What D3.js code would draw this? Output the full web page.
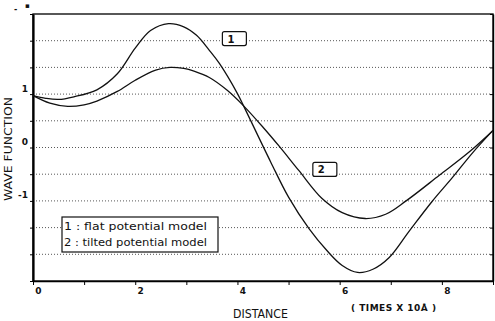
<!DOCTYPE html>
<html>
<head>
<meta charset="utf-8">
<script src="https://cdn.jsdelivr.net/npm/d3@7"></script>
<style>
  body { margin: 0; background: #fff; }
  svg text { font-family: "DejaVu Sans", "Liberation Sans", sans-serif; fill: #111; }
</style>
</head>
<body>
<svg id="chart" width="495" height="321"></svg>
<script>
// curve 1 : flat potential model
const xs1 = [0, 0.25, 0.5, 0.8, 1.25, 1.65, 2.0, 2.3, 2.65, 2.95, 3.2, 3.45, 3.65, 4.0, 4.12, 4.65, 5.0, 5.4, 5.75, 6.05, 6.35, 6.65, 6.97, 7.35, 7.8, 8.2, 8.6, 9.0];
const ys1 = [0.97, 0.92, 0.90, 0.95, 1.08, 1.38, 1.86, 2.19, 2.32, 2.26, 2.10, 1.82, 1.57, 1.01, 0.78, -0.27, -0.93, -1.52, -1.93, -2.21, -2.34, -2.28, -2.06, -1.58, -1.02, -0.57, -0.10, 0.32];
// curve 2 : tilted potential model
const xs2 = [0, 0.33, 0.68, 1.0, 1.25, 1.65, 2.0, 2.4, 2.68, 2.95, 3.15, 3.45, 3.8, 4.12, 4.5, 4.82, 5.2, 5.65, 6.05, 6.5, 6.9, 7.3, 7.95, 8.55, 9.0];
const ys2 = [0.97, 0.83, 0.77, 0.80, 0.87, 1.05, 1.26, 1.45, 1.50, 1.48, 1.43, 1.31, 1.07, 0.78, 0.38, 0.02, -0.43, -0.95, -1.22, -1.33, -1.25, -1.00, -0.52, -0.07, 0.32];

const xTicks = [0, 1, 2, 3, 4, 5, 6, 7, 8, 9];
const xLabels = [0, 2, 4, 6, 8];
const yTicks = [-2.5, -2, -1.5, -1, -0.5, 0, 0.5, 1, 1.5, 2, 2.5];
const yGrid = [-2, -1.5, -1, -0.5, 0, 0.5, 1, 1.5, 2];
const yLabels = [1, 0, -1];
const legendLines = ['1 : flat potential model', '2 : tilted potential model'];
// curve tags: [label, x, y] in data units (box centre)
const tags = [['1', 3.94, 2.04], ['2', 5.71, -0.41]];

const svg = d3.select('#chart');
const x = d3.scaleLinear().domain([0, 9]).range([33, 493]);
const y = d3.scaleLinear().domain([-2.5, 2.5]).range([281, 14]);

// grid
svg.append('g').selectAll('line').data(yGrid).enter().append('line')
    .attr('x1', x(0) + 3).attr('x2', x(9) - 3)
    .attr('y1', d => y(d)).attr('y2', d => y(d))
    .attr('stroke', '#444').attr('stroke-width', 0.9)
    .attr('stroke-dasharray', '1,2');

// frame
svg.append('rect')
    .attr('x', x(0)).attr('y', y(2.5))
    .attr('width', x(9) - x(0)).attr('height', y(-2.5) - y(2.5))
    .attr('fill', 'none').attr('stroke', '#111').attr('stroke-width', 1.4);

// axes
let xAxis = svg.append('g')
    .attr('transform', 'translate(0,' + y(-2.5) + ')')
    .call(d3.axisBottom(x).tickValues(xTicks).tickSize(4).tickSizeOuter(0)
        .tickFormat(d => xLabels.includes(d) ? d : ''));
xAxis.select('.domain').attr('stroke-width', 1.6);
xAxis.selectAll('text')
    .attr('dx', 5).attr('dy', 6)
    .style('font-size', '9px').style('font-weight', 'bold');

let yAxis = svg.append('g')
    .attr('transform', 'translate(' + x(0) + ',0)')
    .call(d3.axisLeft(y).tickValues(yTicks).tickSize(3).tickSizeOuter(0)
        .tickFormat(d => yLabels.includes(d) ? d : ''));
yAxis.select('.domain').attr('stroke-width', 2.2);
yAxis.selectAll('text')
    .attr('x', -5).attr('dy', -3)
    .style('font-size', '9px').style('font-weight', 'bold');

let rAxis = svg.append('g')
    .attr('transform', 'translate(' + x(9) + ',0)')
    .call(d3.axisRight(y).tickValues(yTicks).tickSize(-3).tickSizeOuter(0).tickFormat(''));
rAxis.select('.domain').attr('stroke-width', 1.4);

// curves
let line = d3.line()
    .x(d => x(d[0]))
    .y(d => y(d[1]))
    .curve(d3.curveCatmullRom.alpha(0.5));

[[xs1, ys1], [xs2, ys2]].forEach(function (s) {
    let pts = s[0].map((v, i) => [v, s[1][i]]);
    svg.append('path')
        .attr('d', line(pts))
        .attr('fill', 'none')
        .attr('stroke', '#111')
        .attr('stroke-width', 1.3);
});

// curve tags
tags.forEach(function (t) {
    svg.append('rect')
        .attr('x', x(t[1]) - 12).attr('y', y(t[2]) - 7)
        .attr('width', 24).attr('height', 14)
        .attr('rx', 2)
        .attr('fill', '#fff').attr('stroke', '#111').attr('stroke-width', 1.2);
    svg.append('text')
        .attr('x', x(t[1]) - 7).attr('y', y(t[2]) + 4)
        .style('font-size', '10px').style('font-weight', 'bold')
        .text(t[0]);
});

// legend
svg.append('rect')
    .attr('x', 62).attr('y', 217).attr('width', 156).attr('height', 35)
    .attr('fill', '#fff').attr('stroke', '#111').attr('stroke-width', 1.2);
legendLines.forEach(function (t, i) {
    svg.append('text')
        .attr('x', 64).attr('y', 230 + i * 16)
        .attr('textLength', 143).attr('lengthAdjust', 'spacingAndGlyphs')
        .style('font-size', '11px')
        .text(t);
});

// axis titles
svg.append('text')
    .attr('transform', 'translate(12,149) rotate(-90)')
    .attr('text-anchor', 'middle')
    .attr('textLength', 104).attr('lengthAdjust', 'spacingAndGlyphs')
    .style('font-size', '11px')
    .text('WAVE FUNCTION');

svg.append('text')
    .attr('x', 233).attr('y', 318)
    .attr('textLength', 55).attr('lengthAdjust', 'spacingAndGlyphs')
    .style('font-size', '12px')
    .text('DISTANCE');

svg.append('text')
    .attr('x', 351).attr('y', 311)
    .attr('textLength', 85).attr('lengthAdjust', 'spacing')
    .style('font-size', '9px').style('font-weight', 'bold')
    .text('( TIMES X 10Å )');

// scan marks at top left
svg.append('text').attr('x', 14).attr('y', 12)
    .style('font-size', '8px').style('font-weight', 'bold').text('-');
svg.append('text').attr('x', 25).attr('y', 8)
    .style('font-size', '7px').style('font-weight', 'bold').text('▪');
</script>
</body>
</html>
